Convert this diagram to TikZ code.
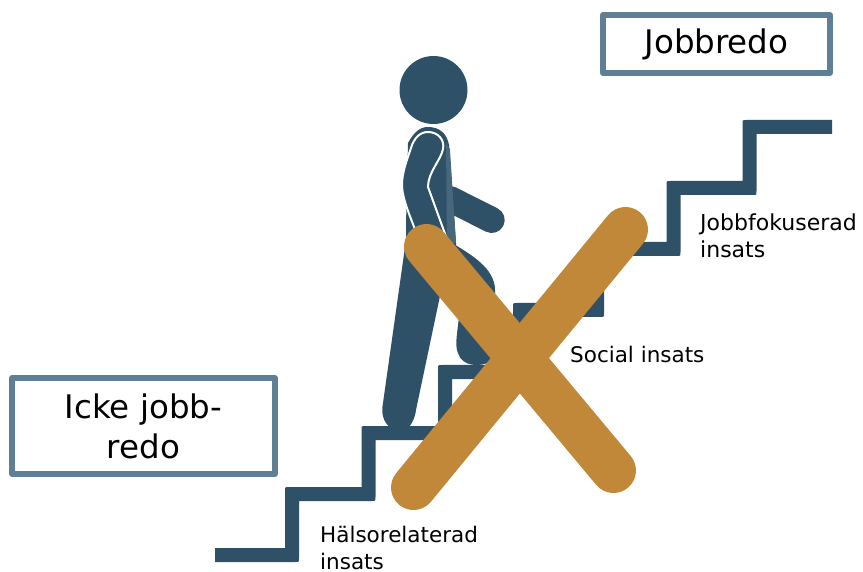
\documentclass[tikz,border=0pt]{standalone}
\usepackage{fontspec}
\setmainfont{DejaVu Sans}
\definecolor{stairblue}{HTML}{2F5167}
\definecolor{striplight}{HTML}{46677C}
\definecolor{crossorange}{HTML}{C08838}
\definecolor{boxblue}{HTML}{5F7F96}
\newcommand{\tlc}[2]{-- (#1,#2+4) .. controls (#1,#2) .. (#1+4,#2)}
\newcommand{\brc}[2]{-- (#1,#2-4) .. controls (#1,#2) .. (#1-4,#2)}
\tikzset{
  x=1pt,y=-1pt,
  statebox/.style={draw=boxblue,line width=5.5pt,line join=round,fill=white,inner sep=0pt,align=center,font=\fontsize{32.5}{40}\selectfont},
  smalllabel/.style={anchor=west,inner sep=0pt,align=left,font=\fontsize{21.5}{26.5}\selectfont},
  bodypart/.style={fill=stairblue},
  crossbar/.style={draw=crossorange,line width=45pt,line cap=round},
}
\begin{document}
\begin{tikzpicture}
\useasboundingbox (0,0) rectangle (863,572);
% back leg
\fill[bodypart] (406,240) -- (383,403) .. controls (380,416) and (386,426) .. (392,428)
  -- (408,428) .. controls (412,424) and (415,418) .. (416,410) -- (440,296) -- (455,240) -- cycle;
% front leg
\fill[bodypart] (452,243) .. controls (470,254) and (495,268) .. (495,290)
  -- (495,340) -- (512,352) -- (490,362) .. controls (480,367) and (462,367) .. (458,353)
  .. controls (454,345) and (458,330) .. (461,300) -- (430,270) -- cycle;
% hand arm
\draw[stairblue,line width=26pt,line cap=round] (450,199) -- (491.7,220);
% torso
\fill[bodypart] (406,260) -- (406,225) -- (408,143) .. controls (414,132) and (420,127) .. (428,127)
  .. controls (440,127) and (447,134) .. (449,145) -- (456,243) -- (456,270) -- cycle;
\fill[striplight] (446,142) .. controls (449,150) and (449,145) .. (450,150) -- (456,243) -- (447,243) -- cycle;
% near arm with white outline
\draw[white,line width=2pt,fill=stairblue] (428,132) .. controls (438,132) and (445,140) .. (443,149)
  .. controls (441,160) and (428,172) .. (428,187)
  -- (448,242) -- (430,262) -- (416,232)
  .. controls (410,216) and (402,198) .. (402,185)
  .. controls (402,172) and (407,160) .. (411,148)
  .. controls (414,138) and (420,132) .. (428,132) -- cycle;
% stairs
\fill[stairblue] (215,548) -- (285,548) \tlc{285}{487} -- (361.5,487) \tlc{361.5}{426}
  -- (438,426) \tlc{438}{365} -- (513,365) \tlc{513}{303} -- (590,303) -- (590,242) -- (666.5,242)
  \tlc{666.5}{181} -- (742.5,181) \tlc{742.5}{120} -- (832,120) -- (832,134)
  -- (756.5,134) \brc{756.5}{195} -- (680.5,195) \brc{680.5}{256} -- (604,256) \brc{604}{317}
  -- (527,317) \brc{527}{379} -- (452,379) \brc{452}{440} -- (375.5,440) \brc{375.5}{501}
  -- (299,501) \brc{299}{562} -- (215,562) -- cycle;
% head
\node[circle,fill=stairblue,minimum size=68pt,inner sep=0pt] (head) at (433.5,90) {};
% cross
\coordinate (crossA) at (426.5,246.5);
\coordinate (crossB) at (613.5,470.5);
\coordinate (crossC) at (413.5,487.5);
\coordinate (crossD) at (625.5,229.5);
\draw[crossbar] (crossA) -- (crossB);
\draw[crossbar] (crossC) -- (crossD);
% boxes
\node[statebox,minimum width=227pt,minimum height=58pt] (ready) at (716.5,44) {\raisebox{-3pt}{Jobbredo}};
\node[statebox,minimum width=263pt,minimum height=96pt] (notready) at (143.5,426) {Icke jobb-\\redo};
% labels
\node[smalllabel] (health) at (320,548) {Hälsorelaterad\\insats};
\node[smalllabel] (social) at (570,354) {Social insats};
\node[smalllabel,font=\fontsize{22}{27}\selectfont] (jobfocus) at (700,235.5) {Jobbfokuserad\\insats};
\end{tikzpicture}
\end{document}
